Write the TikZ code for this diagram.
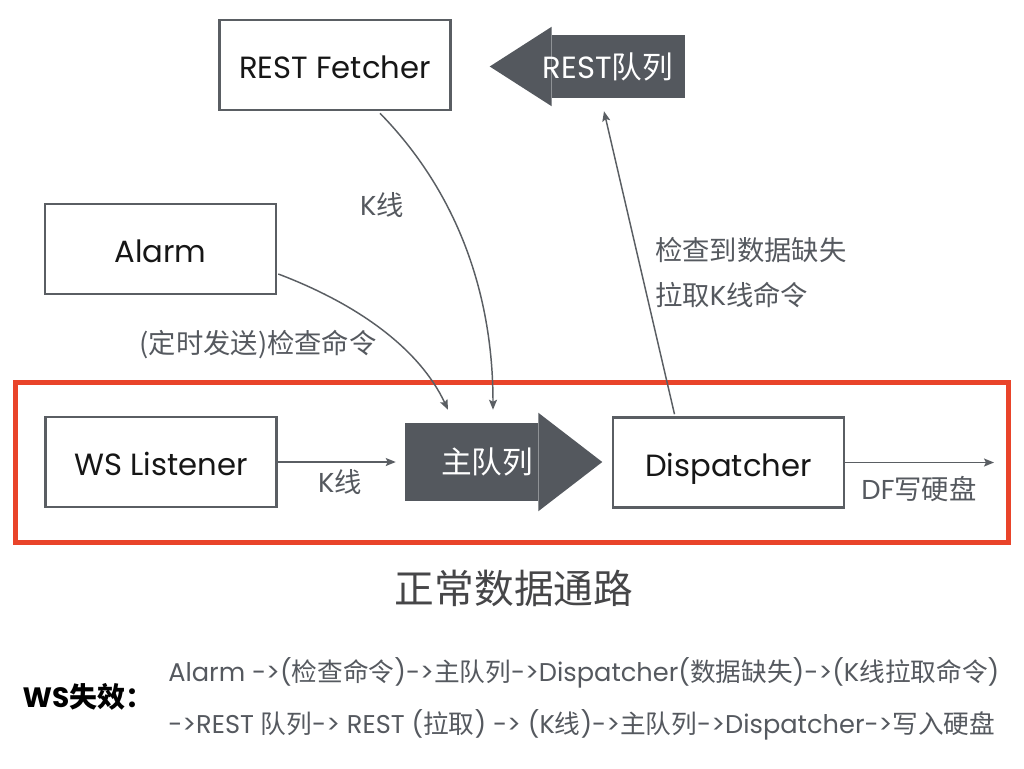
\documentclass[tikz,border=0pt]{standalone}
\usepackage{fontspec}
\setmainfont{Poppins}
\newfontfamily\cjk{Noto Sans CJK SC}
\newcommand\zh[1]{{\cjk #1}}
\usetikzlibrary{calc,arrows.meta}
\definecolor{boxgray}{RGB}{90,94,99}
\definecolor{darkfill}{RGB}{84,88,94}
\definecolor{redc}{RGB}{233,68,42}
\definecolor{lbl}{RGB}{85,89,95}
\definecolor{txt}{RGB}{22,22,22}
\definecolor{titlec}{RGB}{70,70,72}
\tikzset{
  box/.style={draw=boxgray, line width=1.9pt, fill=white, minimum width=173.25pt,
    minimum height=67.5pt, inner sep=0pt, text=txt, font=\fontsize{23}{28}\selectfont,
    text height=20.5pt, text depth=0pt},
  qbody/.style={fill=darkfill, draw=none, inner sep=0pt},
  qtext/.style={text=white, font=\fontsize{23}{28}\selectfont, inner sep=0pt},
  conn/.style={draw=boxgray, line width=1.1pt, -{Stealth[length=7.5pt,width=6pt,inset=1.5pt]}},
  lab/.style={text=lbl, font=\fontsize{20.5}{25}\selectfont, inner sep=0pt},
  bottomtxt/.style={text=lbl, font=\fontsize{19.25}{23}\selectfont, inner sep=0pt, anchor=west},
}
\begin{document}
\begin{tikzpicture}[x=0.75pt,y=-0.75pt]
\useasboundingbox (0,0) rectangle (1024,768);
\fill[white] (0,0) rectangle (1024,768);
% red frame
\draw[redc, line width=4.2pt] (15.5,382.5) rectangle (1008.5,542.5);
% boxes
\node[box] (rest) at (335,65) {REST Fetcher};
\node[box] (alarm) at (160.5,249) {Alarm};
\node[box] (ws) at (161,462) {WS Listener};
\node[box] (disp) at (728.5,462.5) {Dispatcher};
% main queue block arrow
\node[qbody, minimum width=99.75pt, minimum height=58.5pt] (mq) at (471.5,462) {};
\fill[darkfill] ($(mq.north east)+(0,-10)$) -- ($(mq.east)+(64,0)$) -- ($(mq.south east)+(0,10)$) -- cycle;
\node[qtext] (mqlabel) at (487,462) {\zh{主队列}};
% REST queue block arrow
\node[qbody, minimum width=99.75pt, minimum height=47.25pt] (rq) at (618.5,66.5) {};
\fill[darkfill] ($(rq.north west)+(0,-8)$) -- ($(rq.west)+(-62,0)$) -- ($(rq.south west)+(0,8)$) -- cycle;
\node[qtext] (rqlabel) at (608,66.5) {REST\zh{队列}};
% connectors
\coordinate (out) at (994,462.5);
\draw[conn] (ws.east) -- ($(mq.west)+(-9,0)$);
\draw[conn] (disp.east) -- (out);
\draw[conn] ($(alarm.east)+(1,25)$) .. controls (360,305) and (420,350) .. ($(mq.north)+(-23.5,-13)$);
\draw[conn] ($(rest.south)+(45,2)$) .. controls (455,190) and (493,290) .. ($(mq.north)+(21.5,-13)$);
\draw[conn] ($(disp.north)+(-54,-2)$) -- ($(rq.south)+(-14.5,13)$);
% labels
\node[lab] (l1) at (340,482) {K\zh{线}};
\node[lab] (l2) at (919,489) {DF\zh{写硬盘}};
\node[lab] (l3) at (258,345) {\zh{(定时发送)检查命令}};
\node[lab] (l4) at (382,205) {K\zh{线}};
\node[lab, anchor=west] (l5) at (655,250) {\zh{检查到数据缺失}};
\node[lab, anchor=west] (l6) at (655,295) {\zh{拉取}K\zh{线命令}};
% title
\node[text=titlec, font=\fontsize{29.8}{34}\selectfont, inner sep=0pt] (title) at (514,588) {\zh{正常数据通路}};
% bottom
\node[text=black, font=\fontsize{21}{25}\selectfont\bfseries, inner sep=0pt] (ws2) at (88,697) {WS\zh{\bfseries 失效：}};
\node[bottomtxt] (b1) at (168,673) {Alarm ->(\zh{检查命令})->\zh{主队列}->Dispatcher(\zh{数据缺失})->(K\zh{线拉取命令})};
\node[bottomtxt] (b2) at (168,725) {->REST \zh{队列}-> REST (\zh{拉取}) -> (K\zh{线})->\zh{主队列}->Dispatcher->\zh{写入硬盘}};
\end{tikzpicture}
\end{document}
